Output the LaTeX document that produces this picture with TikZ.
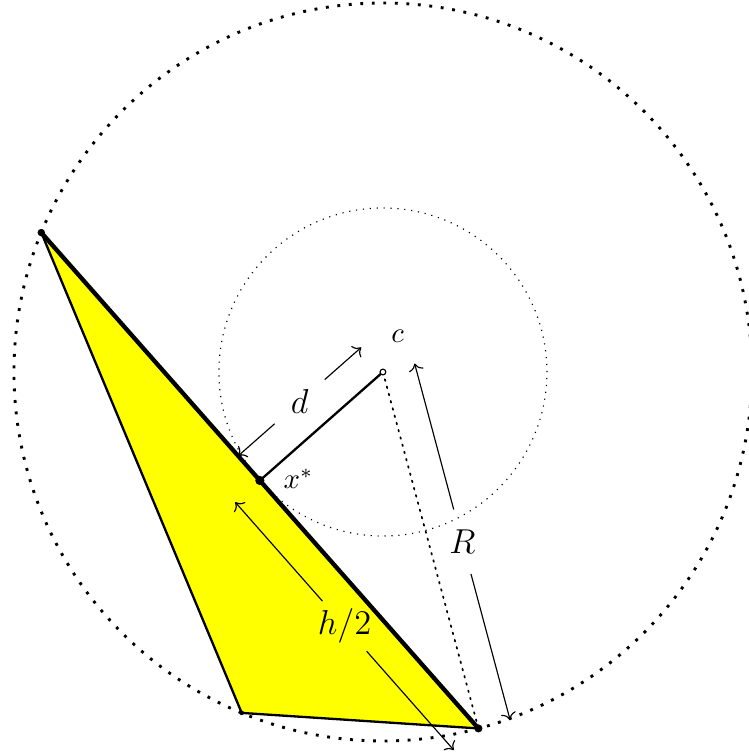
\documentclass[tikz,border=0pt]{standalone}
\usepackage{amsmath, amssymb}
\usepackage{tikz}
\usetikzlibrary{calc}
\usepackage{tkz-euclide}

\definecolor{triyellow}{rgb}{1,1,0}
\tikzset{lab/.style={circle, inner sep=0pt, minimum size=0.8cm, font=\large}}

\begin{document}
\begin{tikzpicture}
                \useasboundingbox (-4.67,-4.683) rectangle (4.463,4.537);
                \tkzDefPoint(0,0){c}
                \tkzDefPoint(157.8:4.5){A}
                \tkzDefPoint(247.5:4.5){B}
                \tkzDefPoint(285:4.5){C}
                \coordinate (X) at ($(A)!0.5!(C)$);
                % shifted copies for the measure arrows
                \coordinate (d1) at ($(X)+(131.4:0.4)$);
                \coordinate (d2) at ($(c)+(131.4:0.4)$);
                \coordinate (h1) at ($(X)+(221.4:0.4)$);
                \coordinate (h2) at ($(C)+(221.4:0.4)$);
                \coordinate (r1) at ($(c)+(15:0.4)$);
                \coordinate (r2) at ($(C)+(15:0.4)$);
                \tkzDrawCircle[black, line width=1pt, dash pattern=on 1pt off 3pt](c,A)
                \tkzDrawCircle[black, thin, dotted](c,X)
                \tkzFillPolygon[triyellow](A,B,C)
                \tkzDrawSegments[black, semithick, dotted](c,C)
                \tkzDrawPolygon[black, thick](A,B,C)
                \tkzDrawSegments[black, line width=1.5pt](A,C)
                \tkzDrawSegments[black, thick](c,X)
                \node[lab] (dlab) at ($(d1)!0.5!(d2)$) {$d$};
                \node[lab] (hlab) at ($(h1)!0.5!(h2)$) {$h/2$};
                \node[lab] (rlab) at ($(r1)!0.5!(r2)$) {$R$};
                \draw[->] (dlab) -- (d1);
                \draw[->] (dlab) -- (d2);
                \draw[->] (hlab) -- (h1);
                \draw[->] (hlab) -- (h2);
                \draw[->] (rlab) -- (r1);
                \draw[->] (rlab) -- (r2);
                \fill (A) circle (1.3pt);
                \fill (B) circle (0.8pt);
                \fill (C) circle (1.4pt);
                \fill (X) circle (1.6pt);
                \filldraw[fill=white] (c) circle (1pt);
                \node (clab) at ($(c)+(0.18,0.43)$) {$c$};
                \node (xlab) at ($(X)+(0.47,0.02)$) {$x^*$};
            \end{tikzpicture}
\end{document}
